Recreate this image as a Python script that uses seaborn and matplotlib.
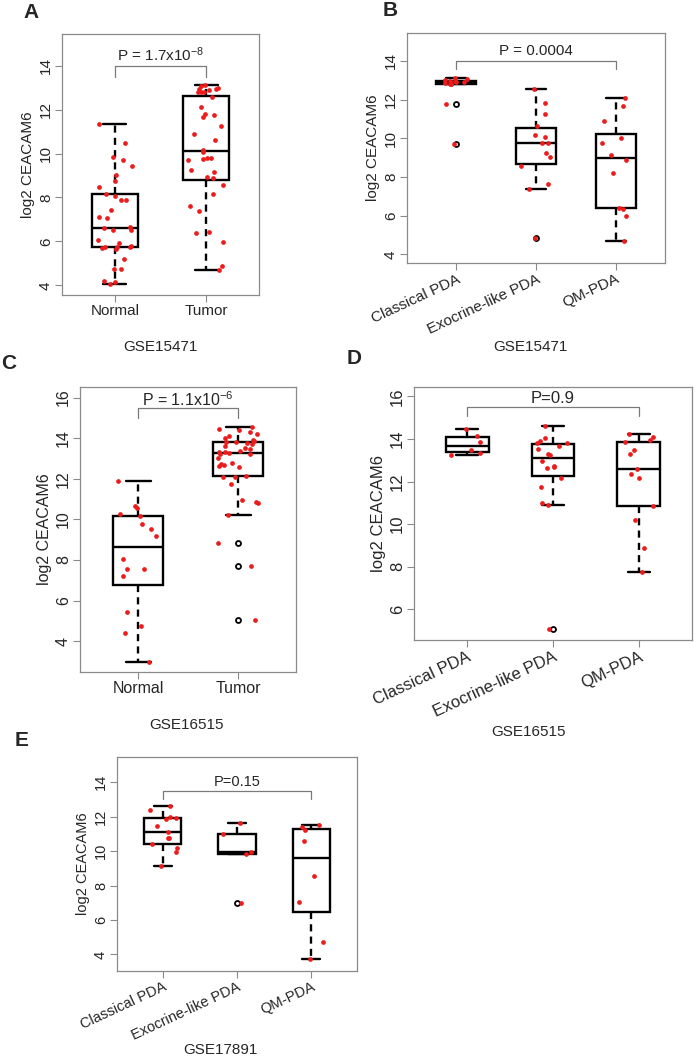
# CEACAM6 expression in PDA datasets - five box plots with jittered points

import numpy as np
import pandas as pd
import matplotlib
matplotlib.use("Agg")
import matplotlib.pyplot as plt
import seaborn as sns

# ------------------- Data -------------------
tissue_groups = ["Normal", "Tumor"]
subtype_groups = ["Classical PDA", "Exocrine-like PDA", "QM-PDA"]

# A : GSE15471 normal vs tumor
a_normal = [11.34, 10.47, 9.86, 9.69, 9.43, 9.01, 8.77, 8.46, 8.16, 8.08, 7.90, 7.90,
            7.41, 7.10, 7.06, 6.67, 6.63, 6.52, 6.52, 6.06, 5.91, 5.80, 5.76, 5.76,
            5.73, 5.68, 5.65, 5.19, 4.73, 4.73, 4.18, 4.15, 4.05]
a_tumor = [13.13, 13.07, 12.98, 12.94, 12.94, 12.91, 12.79, 12.79, 12.79, 12.56, 12.10,
           11.80, 11.75, 11.68, 11.23, 10.88, 10.62, 10.15, 10.07, 9.78, 9.78, 9.73,
           9.70, 9.24, 9.15, 8.94, 8.89, 8.56, 8.17, 7.59, 7.39, 6.45, 6.37, 5.99,
           4.87, 4.69]

# B : GSE15471 subtypes
b_classical = [13.12, 13.05, 13.0, 12.98, 12.95, 12.92, 12.9, 12.85, 12.82, 12.8,
               12.78, 11.75, 9.72]
b_exocrine = [12.57, 11.84, 11.24, 10.64, 10.16, 10.09, 9.74, 9.74, 9.22, 9.02,
              8.57, 7.62, 7.36, 4.86]
b_qm = [12.10, 11.67, 10.90, 10.03, 9.78, 9.12, 8.88, 8.19, 6.41, 6.33, 5.98, 4.69]

# C : GSE16515 normal vs tumor
c_normal = [11.87, 10.64, 10.56, 10.26, 10.15, 9.77, 9.52, 9.20, 8.05, 7.56, 7.56,
            7.23, 5.43, 4.74, 4.38, 2.98]
c_tumor = [14.55, 14.45, 14.4, 14.3, 14.2, 14.1, 14.0, 13.9, 13.85, 13.8, 13.8, 13.75,
           13.7, 13.6, 13.5, 13.45, 13.35, 13.3, 13.3, 13.25, 13.2, 13.2, 13.0, 12.8,
           12.75, 12.7, 12.65, 12.6, 12.15, 12.1, 12.1, 11.75, 10.95, 10.85, 10.8,
           10.2, 8.85, 7.7, 5.05]

# D : GSE16515 subtypes
d_classical = [14.46, 14.15, 13.84, 13.46, 13.34, 13.26]
d_exocrine = [14.59, 14.04, 13.92, 13.81, 13.81, 13.68, 13.54, 13.3, 13.23, 12.95,
              12.74, 12.68, 12.63, 12.15, 11.74, 10.98, 10.9, 5.07]
d_qm = [14.24, 14.09, 13.93, 13.84, 13.46, 13.29, 12.6, 12.36, 12.16, 10.83, 10.2,
        8.9, 7.74]

# E : GSE17891 subtypes
e_classical = [12.62, 12.40, 11.98, 11.94, 11.88, 11.44, 11.08, 10.73, 10.73, 10.40,
               10.15, 9.96, 9.13]
e_exocrine = [11.63, 11.02, 9.96, 9.81, 6.98]
e_qm = [11.5, 11.37, 11.25, 10.56, 8.58, 7.06, 4.71, 3.71]

p_labels = [r"P = 1.7x10$^{-8}$", "P = 0.0004", r"P = 1.1x10$^{-6}$", "P=0.9", "P=0.15"]
datasets = ["GSE15471", "GSE15471", "GSE16515", "GSE16515", "GSE17891"]
panel_letters = ["A", "B", "C", "D", "E"]

# ------------------- Style -------------------
sns.set_style("ticks")
plt.rcParams['font.family'] = ['Liberation Sans', 'DejaVu Sans']
plt.rcParams['mathtext.fontset'] = 'custom'
plt.rcParams['mathtext.rm'] = 'Liberation Sans'
plt.rcParams['mathtext.default'] = 'rm'

RED = "#ec1c1c"
FRAME = "#8a8a8a"


def draw_panel(ax, groups, values, ylim, yticks, ptext, bracket, fs, rot):
    df = pd.DataFrame({
        "group": np.repeat(groups, [len(v) for v in values]),
        "value": np.concatenate(values),
    })
    sns.boxplot(data=df, x="group", y="value", order=groups, width=0.5,
                color="white", linecolor="black", linewidth=1.7, whis=1.5,
                whiskerprops=dict(linestyle=(0, (3, 2.2))),
                flierprops=dict(marker="o", markerfacecolor="none",
                                markeredgecolor="black", markeredgewidth=1.3),
                fliersize=3.6, ax=ax)
    sns.stripplot(data=df, x="group", y="value", order=groups, color=RED,
                  size=3.4, jitter=0.2, linewidth=0, zorder=3, ax=ax)

    n = len(groups)
    ax.set_xlim(-0.5 - 0.04 * n, n - 0.5 + 0.04 * n)
    ax.set_ylim(*ylim)

    # significance bracket between first and last group
    y_top, y_low, y_txt = bracket
    ax.plot([0, 0, n - 1, n - 1], [y_low, y_top, y_top, y_low],
            color="#7a7a7a", lw=0.9, zorder=1)
    ax.text((n - 1) / 2, y_txt, ptext, ha="center", va="center", fontsize=fs)

    ax.set_xlabel("")
    ax.set_ylabel("log2 CEACAM6", fontsize=fs, labelpad=3)
    ax.set_yticks(yticks)
    ax.set_yticklabels([str(t) for t in yticks], rotation=90, va="center")
    ax.set_xticks(range(n))
    if rot:
        ax.set_xticklabels(groups, rotation=25, ha="right", rotation_mode="anchor")
    else:
        ax.set_xticklabels(groups)
    ax.tick_params(axis="both", direction="out", length=5, width=0.8,
                   color=FRAME, labelsize=fs, pad=1.5)
    for sp in ax.spines.values():
        sp.set_color(FRAME)
        sp.set_linewidth(0.9)


# ------------------- Figure -------------------
np.random.seed(7)
fig = plt.figure(figsize=(6.97, 10.58), dpi=100)
W, H = 697, 1058


def rect(x0, y0, x1, y1):
    return [x0 / W, 1 - y1 / H, (x1 - x0) / W, (y1 - y0) / H]


axA = fig.add_axes(rect(62, 34, 259, 295))
draw_panel(axA, tissue_groups, [a_normal, a_tumor], (3.56, 15.44),
           [4, 6, 8, 10, 12, 14], p_labels[0], (14.0, 13.5, 14.5), 11, False)

axB = fig.add_axes(rect(407, 33, 665, 263))
draw_panel(axB, subtype_groups, [b_classical, b_exocrine, b_qm], (3.56, 15.44),
           [4, 6, 8, 10, 12, 14], p_labels[1], (14.0, 13.6, 14.5), 11, True)

axC = fig.add_axes(rect(80, 387, 296, 672))
draw_panel(axC, tissue_groups, [c_normal, c_tumor], (2.48, 16.52),
           [4, 6, 8, 10, 12, 14, 16], p_labels[2], (15.5, 15.0, 15.9), 11.5, False)

axD = fig.add_axes(rect(414, 387, 692, 640))
draw_panel(axD, subtype_groups, [d_classical, d_exocrine, d_qm], (4.56, 16.44),
           [6, 8, 10, 12, 14, 16], p_labels[3], (15.5, 15.1, 15.9), 12, True)

axE = fig.add_axes(rect(117, 757, 357, 971))
draw_panel(axE, subtype_groups, [e_classical, e_exocrine, e_qm], (3.04, 15.46),
           [4, 6, 8, 10, 12, 14], p_labels[4], (13.5, 13.0, 14.0), 10.5, True)

# panel letters and dataset captions
letter_pos = [(23, 13), (383, 10), (1, 363), (347, 358), (15, 740)]
caption_pos = [(160, 347), (530, 347), (187, 725), (528, 732), (220, 1050)]
for letter, (lx, ly) in zip(panel_letters, letter_pos):
    fig.text(lx / W, 1 - ly / H, letter, fontsize=15, fontweight="bold",
             ha="left", va="center")
for name, (cx, cy) in zip(datasets, caption_pos):
    fig.text(cx / W, 1 - cy / H, name, fontsize=11, ha="center", va="center")

fig.savefig("out.png", dpi=100, facecolor="white")
